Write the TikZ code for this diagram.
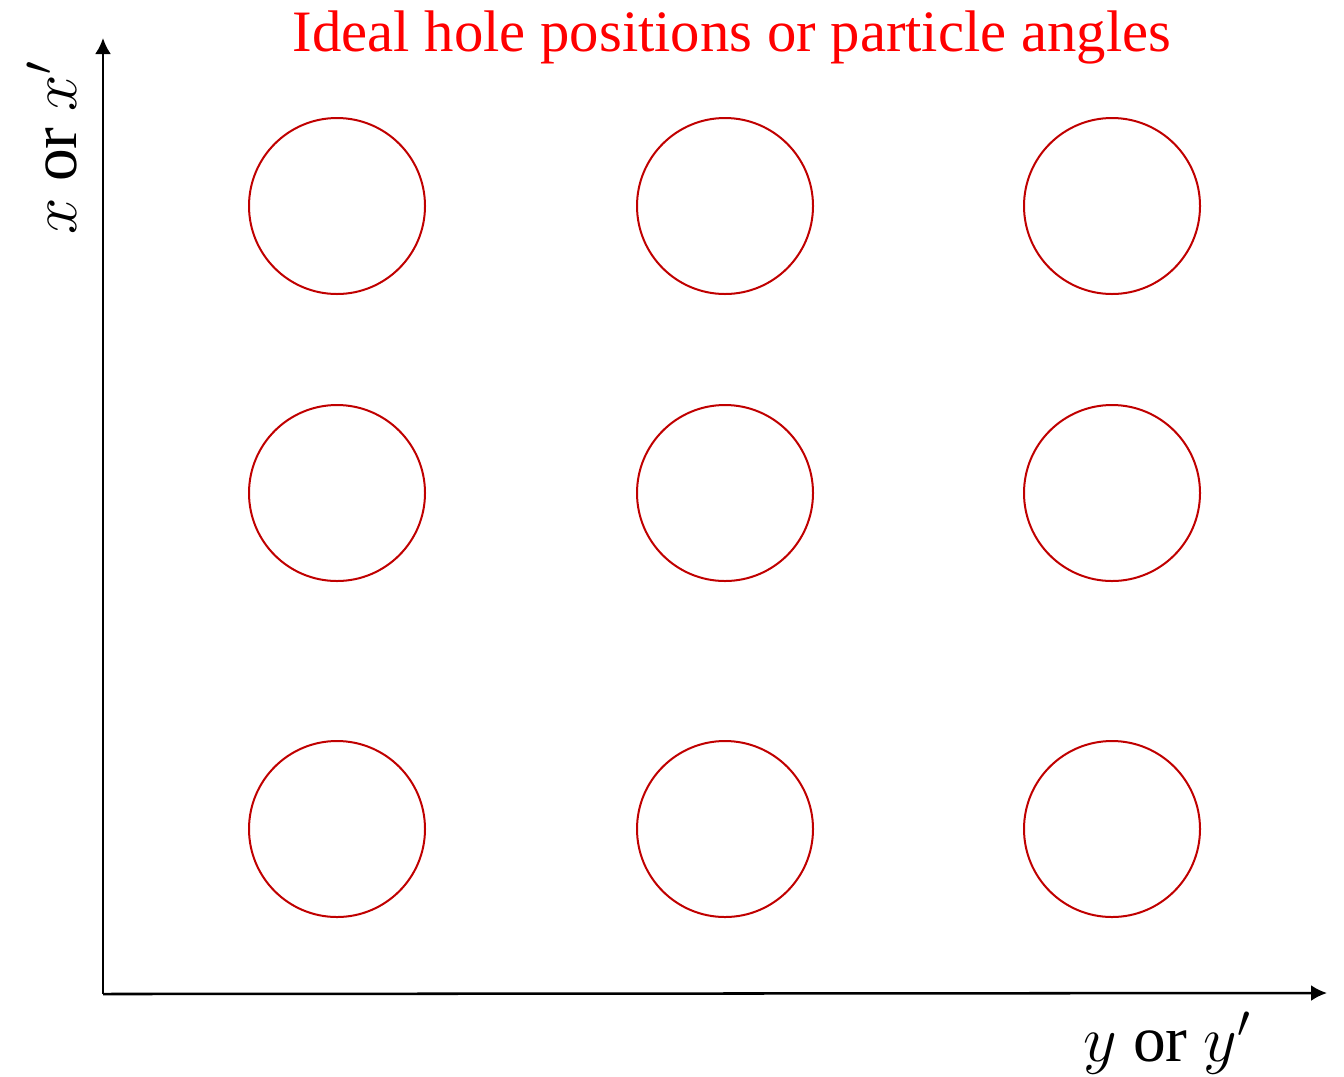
\RequirePackage{fix-cm}
\documentclass[tikz,border=0pt]{standalone}
\usepackage{fontspec}
\setmainfont{Liberation Serif}
\usetikzlibrary{arrows.meta}
\definecolor{holered}{RGB}{192,0,0}
\tikzset{
  hole/.style={circle, draw=holered, line width=1.5pt, minimum size=132pt, inner sep=0pt},
  axis/.style={line width=1.9pt, -{Latex[length=12pt,width=12pt]}},
  axlabel/.style={font=\fontsize{49}{55}\selectfont, inner sep=0pt}
}
\begin{document}
\begin{tikzpicture}[x=0.75pt, y=-0.75pt]
  \useasboundingbox (0,0) rectangle (1344,1076);
  \coordinate (o) at (103,994);
  \coordinate (xtip) at (103,38);
  \coordinate (ytip) at (1327,993);
  \draw[axis] (o) -- (xtip);
  \draw[axis] (o) -- (ytip);
  \foreach \r/\yy in {1/206, 2/493, 3/829}
    \foreach \c/\xx in {1/337, 2/725, 3/1112}
      \node[hole] (h\r\c) at (\xx,\yy) {};
  \node[font=\fontsize{44}{50}\selectfont, text=red] (title) at (732,37) {Ideal hole positions or particle angles};
  \node[axlabel, rotate=90] (xlab) at (52,148) {$x$ or $x'$};
  \node[axlabel] (ylab) at (1167,1043) {$y$ or $y'$};
\end{tikzpicture}
\end{document}
